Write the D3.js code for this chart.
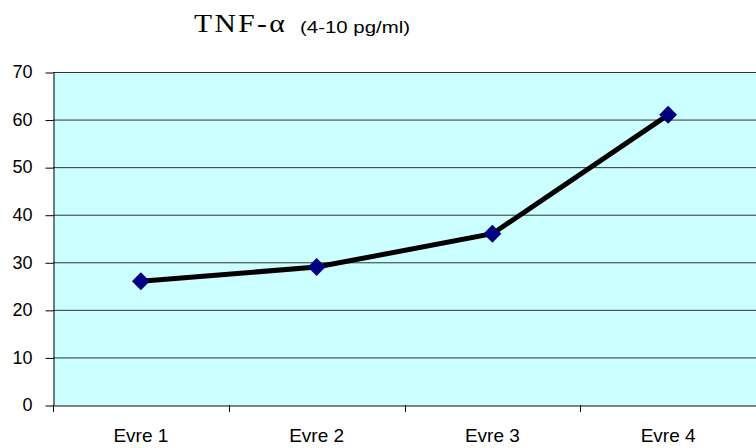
<!DOCTYPE html>
<html>
<head>
<meta charset="utf-8">
<script src="https://cdn.jsdelivr.net/npm/d3@7"></script>
<style>
  body { margin: 0; background: #fff; }
  svg { display: block; }
</style>
</head>
<body>
<div id="chart"></div>
<script>
const categories = ["Evre 1", "Evre 2", "Evre 3", "Evre 4"];
const values = [26, 29, 36, 61];
const yTicks = [0, 10, 20, 30, 40, 50, 60, 70];

const width = 756, height = 448;
const margin = {top: 72, right: 0, bottom: 43, left: 53};
const sans = "Arial, 'Liberation Sans', sans-serif";

var svg = d3.select("#chart").append("svg")
  .attr("width", width)
  .attr("height", height);

const x = d3.scaleBand()
  .domain(categories)
  .range([margin.left, width - margin.right]);

const y = d3.scaleLinear()
  .domain([0, 70])
  .range([height - margin.bottom, margin.top]);

// plot background
svg.append("rect")
  .attr("x", margin.left)
  .attr("y", margin.top)
  .attr("width", width - margin.left - margin.right)
  .attr("height", y(0) - margin.top)
  .attr("fill", "#ccffff");

// gridlines
svg.append("g")
  .selectAll("line")
  .data(yTicks.filter(d => d > 0))
  .join("line")
  .attr("x1", margin.left)
  .attr("x2", width)
  .attr("y1", d => y(d) + 0.5)
  .attr("y2", d => y(d) + 0.5)
  .attr("stroke", "#333")
  .attr("stroke-width", 1);

// y axis
var yAxis = svg.append("g")
  .attr("transform", `translate(${margin.left + 0.5},0)`)
  .call(d3.axisLeft(y).tickValues(yTicks).tickSize(8).tickPadding(13).tickSizeOuter(0));
yAxis.select(".domain").attr("stroke", "#000");
yAxis.selectAll(".tick line").attr("stroke", "#000").attr("transform", "translate(0,0.5)");
yAxis.selectAll("text")
  .attr("font-family", sans)
  .attr("font-size", 18)
  .attr("fill", "#000");

// x axis
var xAxis = svg.append("g")
  .attr("transform", `translate(0,${y(0) + 0.5})`)
  .call(d3.axisBottom(x).tickSize(0).tickPadding(23).tickSizeOuter(0));
xAxis.select(".domain").attr("stroke", "#000");
xAxis.selectAll("text")
  .attr("font-family", sans)
  .attr("font-size", 19)
  .attr("fill", "#000");

// category separator ticks
svg.append("g")
  .selectAll("line")
  .data(categories)
  .join("line")
  .attr("x1", d => Math.round(x(d)) + 0.5)
  .attr("x2", d => Math.round(x(d)) + 0.5)
  .attr("y1", y(0))
  .attr("y2", y(0) + 7)
  .attr("stroke", "#000");

// line
const line = d3.line()
  .x((d, i) => x(categories[i]) + x.bandwidth() / 2)
  .y(d => y(d));

svg.append("path")
  .datum(values)
  .attr("d", line)
  .attr("fill", "none")
  .attr("stroke", "#000")
  .attr("stroke-width", 5);

// diamond markers
svg.append("g")
  .selectAll("path")
  .data(values)
  .join("path")
  .attr("d", d3.symbol(d3.symbolSquare, 160))
  .attr("transform", (d, i) => `translate(${x(categories[i]) + x.bandwidth() / 2},${y(d)}) rotate(45)`)
  .attr("fill", "#000080");

// title
svg.append("text")
  .attr("x", 194)
  .attr("y", 32)
  .attr("font-family", "'Times New Roman', 'Liberation Serif', serif")
  .attr("font-size", 25)
  .attr("letter-spacing", 2)
  .attr("textLength", 93)
  .attr("lengthAdjust", "spacingAndGlyphs")
  .text("TNF-α");
svg.append("text")
  .attr("x", 300)
  .attr("y", 33)
  .attr("font-family", sans)
  .attr("font-size", 17)
  .attr("textLength", 110)
  .attr("lengthAdjust", "spacingAndGlyphs")
  .text("(4-10 pg/ml)");
</script>
</body>
</html>
